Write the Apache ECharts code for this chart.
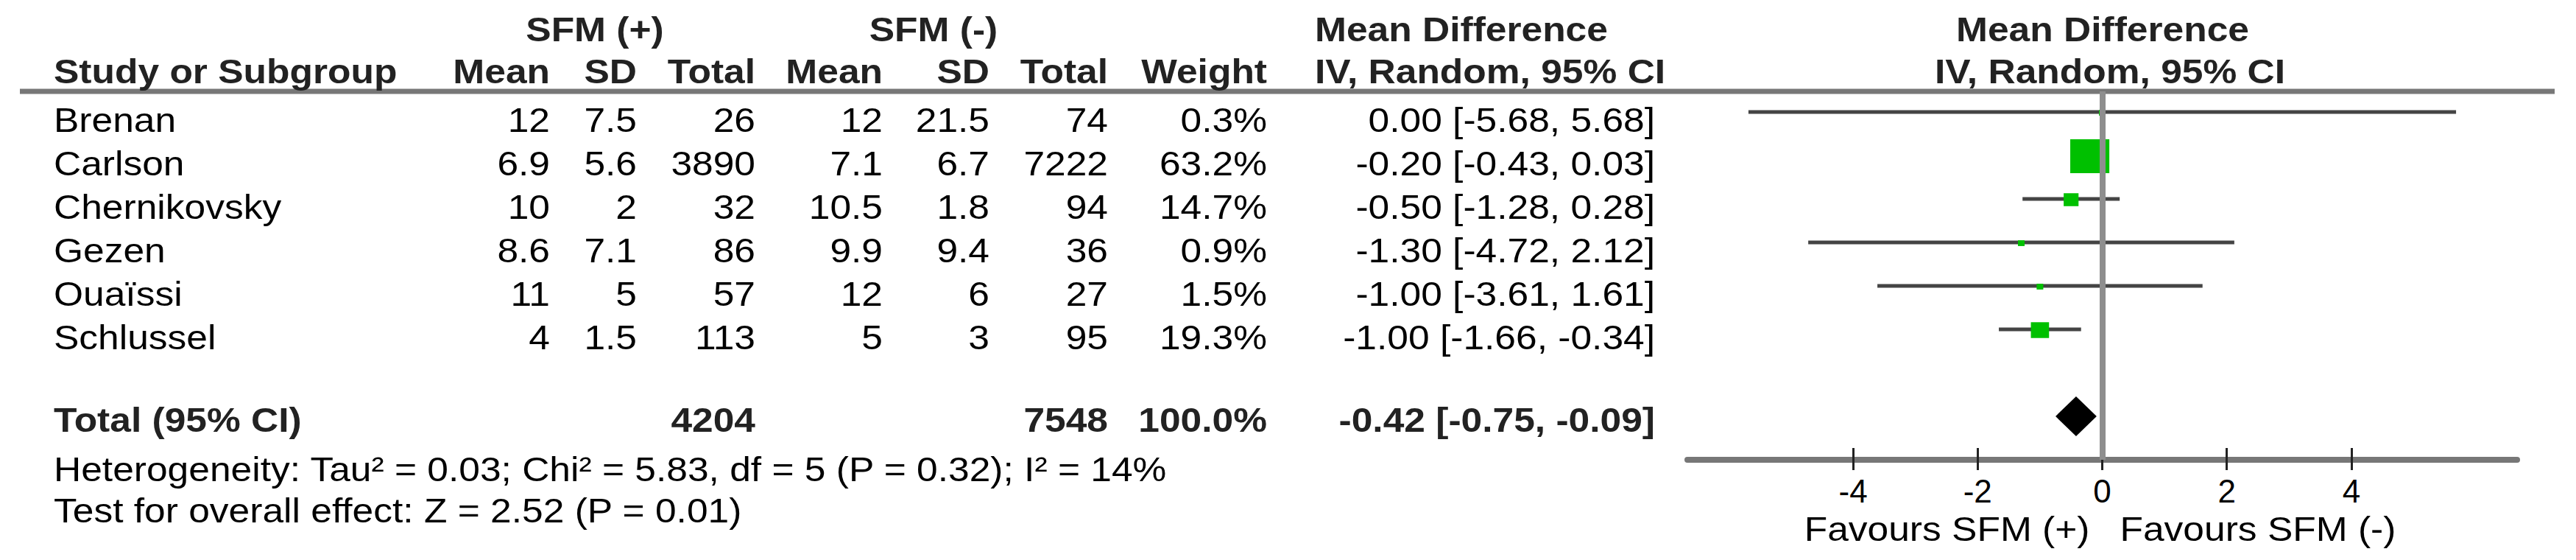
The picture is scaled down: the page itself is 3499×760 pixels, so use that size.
<!DOCTYPE html>
<html>
<head>
<meta charset="utf-8">
<script src="https://cdn.jsdelivr.net/npm/echarts@6/dist/echarts.min.js"></script>
<style>
    html, body { margin: 0; padding: 0; background: #fff; }
    #chart { width: 3499px; height: 760px; }
</style>
</head>
<body>
<div id="chart"></div>
<script>
// study data
const studies = ['Brenan', 'Carlson', 'Chernikovsky', 'Gezen', 'Ouaïssi', 'Schlussel'];
const meanPos = [12, 6.9, 10, 8.6, 11, 4];
const sdPos = [7.5, 5.6, 2, 7.1, 5, 1.5];
const totalPos = [26, 3890, 32, 86, 57, 113];
const meanNeg = [12, 7.1, 10.5, 9.9, 12, 5];
const sdNeg = [21.5, 6.7, 1.8, 9.4, 6, 3];
const totalNeg = [74, 7222, 94, 36, 27, 95];
const weights = [0.3, 63.2, 14.7, 0.9, 1.5, 19.3];
const md = [0.00, -0.20, -0.50, -1.30, -1.00, -1.00];
const ciLow = [-5.68, -0.43, -1.28, -4.72, -3.61, -1.66];
const ciHigh = [5.68, 0.03, 0.28, 2.12, 1.61, -0.34];

// pooled result
const pooledTotals = [4204, 7548];
const pooledWeight = 100.0;
const pooled = [-0.42, -0.75, -0.09];
const heterogeneityText = 'Heterogeneity: Tau² = 0.03; Chi² = 5.83, df = 5 (P = 0.32); I² = 14%';
const overallText = 'Test for overall effect: Z = 2.52 (P = 0.01)';

const tickValues = [-4, -2, 0, 2, 4];
const totalRow = 7;

const FONT = '"Liberation Sans", Arial, sans-serif';
const FS = 46;
const SX = 1.12; // the reference text runs a bit wide

const chart = echarts.init(document.getElementById('chart'), null, { renderer: 'svg' });

const fmtCI = (m, l, h) => `${m.toFixed(2)} [${l.toFixed(2)}, ${h.toFixed(2)}]`;

// square side grows with the study weight
const boxW = (w) => Math.max(9, 8 * Math.sqrt(w) - 10.5);
const studyData = studies.map((s, i) => [ciLow[i], ciHigh[i], md[i], i, boxW(weights[i])]);

const option = {
    animation: false,
    backgroundColor: '#fff',
    grid: { left: 2292, width: 1127, top: 124, bottom: 136 },
    xAxis: [{
        type: 'value',
        min: -6.66,
        max: 6.66,
        position: 'bottom',
        splitLine: { show: false },
        axisLine: { onZero: false, lineStyle: { color: '#777', width: 8 } },
        axisTick: { show: true, customValues: tickValues, length: 14, lineStyle: { color: '#222', width: 3 } },
        axisLabel: { customValues: tickValues, color: '#000', fontSize: 44, fontFamily: FONT, margin: 20 }
    }, {
        type: 'value',
        min: -6.66,
        max: 6.66,
        position: 'bottom',
        splitLine: { show: false },
        axisLine: { show: false, onZero: false },
        axisTick: { show: true, inside: true, customValues: tickValues, length: 16, lineStyle: { color: '#222', width: 3 } },
        axisLabel: { show: false }
    }],
    yAxis: {
        type: 'value',
        inverse: true,
        min: -0.475,
        max: 8,
        show: false
    },
    series: [{
        type: 'custom',
        name: 'studies',
        clip: false,
        encode: { x: [0, 1, 2], y: 3 },
        data: studyData,
        renderItem: (params, api) => {
            const a = api.coord([api.value(0), api.value(3)]);
            const b = api.coord([api.value(1), api.value(3)]);
            const c = api.coord([api.value(2), api.value(3)]);
            const w = api.value(4);
            const h = w * 0.87;
            return {
                type: 'group',
                children: [
                    { type: 'line', shape: { x1: a[0], y1: a[1], x2: b[0], y2: b[1] }, style: { stroke: '#444', lineWidth: 5 } },
                    { type: 'rect', shape: { x: c[0] - w / 2, y: c[1] - h / 2 + 1, width: w, height: h }, style: { fill: '#00c000' } }
                ]
            };
        },
        markLine: {
            silent: true,
            symbol: 'none',
            label: { show: false },
            lineStyle: { color: '#8e8e8e', width: 8, type: 'solid' },
            data: [{ xAxis: 0 }]
        }
    }, {
        type: 'custom',
        name: 'pooled',
        clip: false,
        encode: { x: [0, 1, 2], y: 3 },
        data: [[pooled[1], pooled[2], pooled[0], totalRow]],
        renderItem: (params, api) => {
            const a = api.coord([api.value(0), api.value(3)]);
            const b = api.coord([api.value(1), api.value(3)]);
            const c = api.coord([api.value(2), api.value(3)]);
            const h = 27;
            return {
                type: 'polygon',
                shape: { points: [[a[0], a[1]], [c[0], c[1] - h], [b[0], b[1]], [c[0], c[1] + h]] },
                style: { fill: '#000' }
            };
        }
    }]
};

chart.setOption(option);

// table text, laid out in columns next to the plot
const txt = (text, x, y, align, bold) => ({
    type: 'text',
    x: x,
    y: y,
    scaleX: SX,
    silent: true,
    style: {
        text: String(text),
        x: 0,
        y: 0,
        fill: bold ? '#222' : '#000',
        fontSize: FS,
        fontFamily: FONT,
        fontWeight: bold ? 'bold' : 'normal',
        align: align,
        verticalAlign: 'middle'
    }
});

const colRight = [747, 865, 1026, 1199, 1344, 1505, 1721, 2248];
const labelLeft = 73;
const rowY = (r) => chart.convertToPixel({ yAxisIndex: 0 }, r);

const g = [];
// header rule
g.push({ type: 'line', silent: true, shape: { x1: 27, y1: 124, x2: 3470, y2: 124 }, style: { stroke: '#777', lineWidth: 7 } });

// headers
g.push(txt('SFM (+)', 808, 40, 'center', true));
g.push(txt('SFM (-)', 1268, 40, 'center', true));
g.push(txt('Mean Difference', 1786, 40, 'left', true));
g.push(txt('Mean Difference', 2856, 40, 'center', true));
g.push(txt('Study or Subgroup', labelLeft, 97, 'left', true));
['Mean', 'SD', 'Total', 'Mean', 'SD', 'Total', 'Weight'].forEach((h, i) => g.push(txt(h, colRight[i], 97, 'right', true)));
g.push(txt('IV, Random, 95% CI', 1786, 97, 'left', true));
g.push(txt('IV, Random, 95% CI', 2866, 97, 'center', true));

// study rows
studies.forEach((s, i) => {
    const y = rowY(i) + 11;
    const cells = [meanPos[i], sdPos[i], totalPos[i], meanNeg[i], sdNeg[i], totalNeg[i],
        weights[i].toFixed(1) + '%', fmtCI(md[i], ciLow[i], ciHigh[i])];
    g.push(txt(s, labelLeft, y, 'left', false));
    cells.forEach((c, k) => g.push(txt(c, colRight[k], y, 'right', false)));
});

// total row
const ty = rowY(totalRow) + 5;
g.push(txt('Total (95% CI)', labelLeft, ty, 'left', true));
g.push(txt(pooledTotals[0], colRight[2], ty, 'right', true));
g.push(txt(pooledTotals[1], colRight[5], ty, 'right', true));
g.push(txt(pooledWeight.toFixed(1) + '%', colRight[6], ty, 'right', true));
g.push(txt(fmtCI(pooled[0], pooled[1], pooled[2]), colRight[7], ty, 'right', true));

// footnotes
g.push(txt(heterogeneityText, labelLeft, 637, 'left', false));
g.push(txt(overallText, labelLeft, 693, 'left', false));

// favours labels under the axis
const zeroX = chart.convertToPixel({ xAxisIndex: 0 }, 0);
g.push(txt('Favours SFM (+)', zeroX - 17, 718, 'right', false));
g.push(txt('Favours SFM (-)', zeroX + 24, 718, 'left', false));

chart.setOption({ graphic: g });

window.addEventListener('resize', () => chart.resize());
</script>
</body>
</html>
